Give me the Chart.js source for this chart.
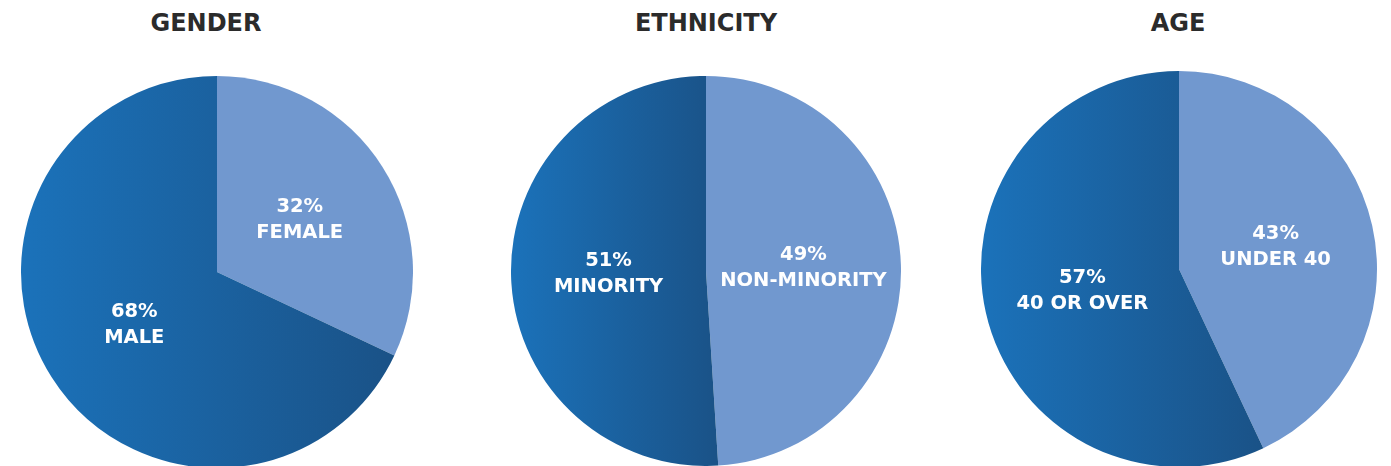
<!DOCTYPE html>
<html>
<head>
<meta charset="utf-8">
<script src="https://cdn.jsdelivr.net/npm/chart.js@4/dist/chart.umd.min.js"></script>
<style>
  html, body { margin: 0; padding: 0; background: #fff; }
  #page { position: relative; width: 1391px; height: 466px; overflow: hidden; }
  .title {
    position: absolute; top: 11px; width: 300px; margin-left: -150px;
    text-align: center; font: bold 24px/24px "DejaVu Sans", sans-serif;
    color: #2b2b2b;
  }
  canvas { position: absolute; }
</style>
</head>
<body>
<div id="page">
  <div class="title" style="left:206px">GENDER</div>
  <div class="title" style="left:706px">ETHNICITY</div>
  <div class="title" style="left:1178px">AGE</div>
  <canvas id="gender" width="392" height="392" style="left:21px;top:76px"></canvas>
  <canvas id="ethnicity" width="390" height="390" style="left:511px;top:76px"></canvas>
  <canvas id="age" width="396" height="396" style="left:981px;top:71px"></canvas>
</div>
<script>
// values (first slice starts at 12 o'clock)
const genderLabels = ['FEMALE', 'MALE'];
const genderValues = [32, 68];

const ethnicityLabels = ['NON-MINORITY', 'MINORITY'];
const ethnicityValues = [49, 51];

const ageLabels = ['UNDER 40', '40 OR OVER'];
const ageValues = [43, 57];

const LIGHT = '#7198cf';
const DARK_LEFT = '#1b72ba';
const DARK_RIGHT = '#1a5287';

// gradient for the dark slice runs across its own horizontal extent
function sliceColor(ctx) {
  if (ctx.dataIndex === 0) return LIGHT;
  const chart = ctx.chart;
  const area = chart.chartArea;
  if (!area) return DARK_LEFT;
  const values = chart.data.datasets[0].data;
  const total = values.reduce((a, b) => a + b, 0);
  const start = -Math.PI / 2 + 2 * Math.PI * values[0] / total;
  const r = Math.min(area.right - area.left, area.bottom - area.top) / 2;
  const cx = (area.left + area.right) / 2;
  const maxCos = start <= 0 ? 1 : Math.max(0, Math.cos(start));
  const g = chart.ctx.createLinearGradient(cx - r, 0, cx + r * maxCos, 0);
  g.addColorStop(0, DARK_LEFT);
  g.addColorStop(1, DARK_RIGHT);
  return g;
}

const sliceLabels = {
  id: 'sliceLabels',
  afterDatasetsDraw(chart) {
    const c = chart.ctx;
    const meta = chart.getDatasetMeta(0);
    const values = chart.data.datasets[0].data;
    c.save();
    c.fillStyle = '#ffffff';
    c.font = 'bold 19.5px "DejaVu Sans", sans-serif';
    c.textAlign = 'center';
    c.textBaseline = 'middle';
    meta.data.forEach((arc, i) => {
      const p = arc.getProps(['x', 'y', 'startAngle', 'endAngle', 'outerRadius'], true);
      const mid = (p.startAngle + p.endAngle) / 2;
      const x = p.x + Math.cos(mid) * p.outerRadius * 0.5;
      const y = p.y + Math.sin(mid) * p.outerRadius * 0.5;
      c.fillText(values[i] + '%', x, y - 13);
      c.fillText(chart.data.labels[i], x, y + 13);
    });
    c.restore();
  }
};

function makePie(id, labels, values) {
  return new Chart(document.getElementById(id), {
    type: 'pie',
    data: {
      labels: labels,
      datasets: [{
        data: values,
        backgroundColor: sliceColor,
        borderWidth: 0
      }]
    },
    options: {
      responsive: false,
      animation: false,
      devicePixelRatio: 1,
      layout: { padding: 0 },
      plugins: {
        legend: { display: false },
        tooltip: { enabled: false }
      }
    },
    plugins: [sliceLabels]
  });
}

makePie('gender', genderLabels, genderValues);
makePie('ethnicity', ethnicityLabels, ethnicityValues);
makePie('age', ageLabels, ageValues);
</script>
</body>
</html>
